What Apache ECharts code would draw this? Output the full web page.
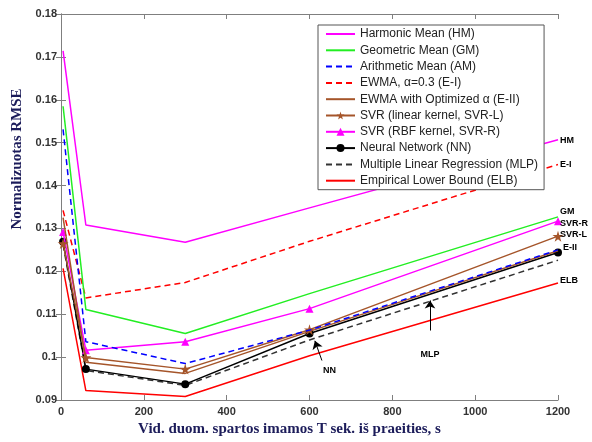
<!DOCTYPE html>
<html>
<head>
<meta charset="utf-8">
<script src="https://cdn.jsdelivr.net/npm/echarts@6/dist/echarts.min.js"></script>
<style>html,body{margin:0;padding:0;background:#fff}#c{width:592px;height:442px}</style>
</head>
<body>
<div id="c"></div>
<script>
// ---- data ----
const xValues = [5, 60, 300, 600, 1200];
const hm    = [0.1714, 0.1308, 0.1268, 0.1348, 0.1507];
const gm    = [0.1585, 0.1111, 0.1055, 0.1148, 0.1327];
const am    = [0.1531, 0.1036, 0.0985, 0.1063, 0.1250];
const ewma1 = [0.1342, 0.1138, 0.1174, 0.1270, 0.1449];
const ewma2 = [0.1325, 0.0988, 0.0962, 0.1060, 0.1248];
const svrL  = [0.1265, 0.0999, 0.0972, 0.1064, 0.1282];
const svrR  = [0.1292, 0.1016, 0.1036, 0.1113, 0.1317];
const nn    = [0.1269, 0.0972, 0.0937, 0.1055, 0.1244];
const mlp   = [0.1262, 0.0969, 0.0934, 0.1040, 0.1226];
const elb   = [0.1207, 0.0922, 0.0908, 0.1003, 0.1173];
const seriesNames = [
  'Harmonic Mean (HM)', 'Geometric Mean (GM)', 'Arithmetic Mean (AM)',
  'EWMA, \u03b1=0.3 (E-I)', 'EWMA with Optimized \u03b1 (E-II)',
  'SVR (linear kernel, SVR-L)', 'SVR (RBF kernel, SVR-R)',
  'Neural Network (NN)', 'Multiple Linear Regression (MLP)', 'Empirical Lower Bound (ELB)'
];
const endTags = ['HM', 'GM', null, 'E-I', 'E-II', 'SVR-L', 'SVR-R', null, null, 'ELB'];
const xTicks = { min: 0, max: 1200, interval: 200 };
const yTicks = { min: 0.09, max: 0.18, interval: 0.01 };
const xName = 'Vid. duom. spartos imamos T sek. i\u0161 praeities, s';
const yName = 'Normalizuotas RMSE';

// ---- styling (not data) ----
const allValues = [hm, gm, am, ewma1, ewma2, svrL, svrR, nn, mlp, elb];
const colors = ['#ff00ff', '#22ee22', '#0000ff', '#ff0000', '#a5552a', '#a5552a', '#ff00ff', '#000000', '#333333', '#ff0000'];
const dashed = [false, false, true, true, false, false, false, false, true, false];
const starPath = 'path://M50,0 L61,35 L98,35 L68,57 L79,91 L50,70 L21,91 L32,57 L2,35 L39,35 Z';
const symbols = ['none', 'none', 'none', 'none', 'none', starPath, 'triangle', 'circle', 'none', 'none'];
const symSizes = [0, 0, 0, 0, 0, 11, 8, 8, 0, 0];
const tagOffsets = [[0, 1], [0, -5], [0, 0], [0, 0], [3, -3], [0, -2], [0, 2], [0, 0], [0, 0], [0, -2]];

const tickFont = { fontFamily: 'Arial, "Liberation Sans"', fontWeight: 'bold', fontSize: 11, color: '#333' };
const nameFont = { fontFamily: '"Times New Roman", "Liberation Serif", serif', fontWeight: 'bold', color: '#1c1c5a' };
const frame = { show: true, lineStyle: { color: '#7f7f7f', width: 1 } };
const tickIn = { show: true, inside: true, length: 5, lineStyle: { color: '#7f7f7f' } };

const series = allValues.map((vals, i) => {
  const s = {
    name: seriesNames[i],
    type: 'line',
    data: xValues.map((x, k) => [x, vals[k]]),
    symbol: symbols[i],
    symbolSize: symSizes[i],
    showSymbol: symbols[i] !== 'none',
    itemStyle: { color: colors[i] },
    lineStyle: { color: colors[i], width: 1.5, type: dashed[i] ? [6, 4] : 'solid' },
    emphasis: { disabled: true },
    z: 2 + (9 - i) * 0.01
  };
  if (endTags[i]) {
    s.endLabel = {
      show: true, formatter: endTags[i], distance: 2,
      offset: tagOffsets[i],
      fontFamily: 'Arial, "Liberation Sans"', fontWeight: 'bold', fontSize: 9, color: '#000'
    };
  }
  return s;
});

// annotation arrows (data space)
const annLabel = { show: true, fontFamily: 'Arial, "Liberation Sans"', fontWeight: 'bold', fontSize: 9, color: '#000' };
const arrowLine = coords => ({
  silent: true, symbol: ['none', 'arrow'], symbolSize: 8,
  itemStyle: { color: '#000' },
  lineStyle: { color: '#000', width: 1, type: 'solid' }, label: { show: false },
  data: [coords]
});
series[7].markLine = arrowLine([{ coord: [630, 0.0992] }, { coord: [613, 0.1038] }]);
series[7].markPoint = {
  silent: true, symbolSize: 0,
  label: Object.assign({ position: 'inside', formatter: 'NN' }, annLabel),
  data: [{ coord: [648, 0.0968] }]
};
series[8].markLine = arrowLine([{ coord: [891, 0.1062] }, { coord: [891, 0.1132] }]);
series[8].markPoint = {
  silent: true, symbolSize: 0,
  label: Object.assign({ position: 'inside', formatter: 'MLP' }, annLabel),
  data: [{ coord: [891, 0.1006] }]
};

const legendData = seriesNames.map((n, i) =>
  symbols[i] === 'none' ? { name: n, itemStyle: { opacity: 0 } } : { name: n });

const chart = echarts.init(document.getElementById('c'), null, { renderer: 'canvas' });
chart.setOption({
  animation: false,
  backgroundColor: '#fff',
  grid: { left: 61, right: 34, top: 14, bottom: 39, show: false },
  legend: {
    orient: 'vertical', left: 318, top: 25,
    data: legendData,
    itemWidth: 29, itemHeight: 10, itemGap: 2.3,
    padding: [2, 6, 2, 7],
    backgroundColor: '#fff', borderColor: '#555', borderWidth: 1, borderRadius: 0,
    textStyle: { fontFamily: 'Arial, "Liberation Sans"', fontSize: 12, color: '#222', lineHeight: 14 },
    selectedMode: false
  },
  xAxis: [
    {
      type: 'value', position: 'bottom', min: xTicks.min, max: xTicks.max, interval: xTicks.interval,
      axisLine: frame, axisTick: tickIn, splitLine: { show: false },
      axisLabel: Object.assign({ margin: 6, formatter: v => String(v) }, tickFont),
      name: xName, nameLocation: 'middle', nameGap: 22,
      nameTextStyle: Object.assign({ fontSize: 15, padding: [0, 40, 0, 0] }, nameFont)
    },
    {
      type: 'value', position: 'top', min: xTicks.min, max: xTicks.max, interval: xTicks.interval,
      axisLine: frame, axisTick: tickIn, splitLine: { show: false }, axisLabel: { show: false }
    }
  ],
  yAxis: [
    {
      type: 'value', position: 'left', min: yTicks.min, max: yTicks.max, interval: yTicks.interval,
      axisLine: frame, axisTick: tickIn, splitLine: { show: false },
      axisLabel: Object.assign({ margin: 4, formatter: v => String(parseFloat(v.toFixed(2))) }, tickFont),
      name: yName, nameLocation: 'middle', nameGap: 32,
      nameTextStyle: Object.assign({ fontSize: 15, padding: [0, 0, 0, 96] }, nameFont)
    },
    {
      type: 'value', position: 'right', min: yTicks.min, max: yTicks.max, interval: yTicks.interval,
      axisLine: frame, axisTick: tickIn, splitLine: { show: false }, axisLabel: { show: false }
    }
  ],
  series: series
});
</script>
</body>
</html>
